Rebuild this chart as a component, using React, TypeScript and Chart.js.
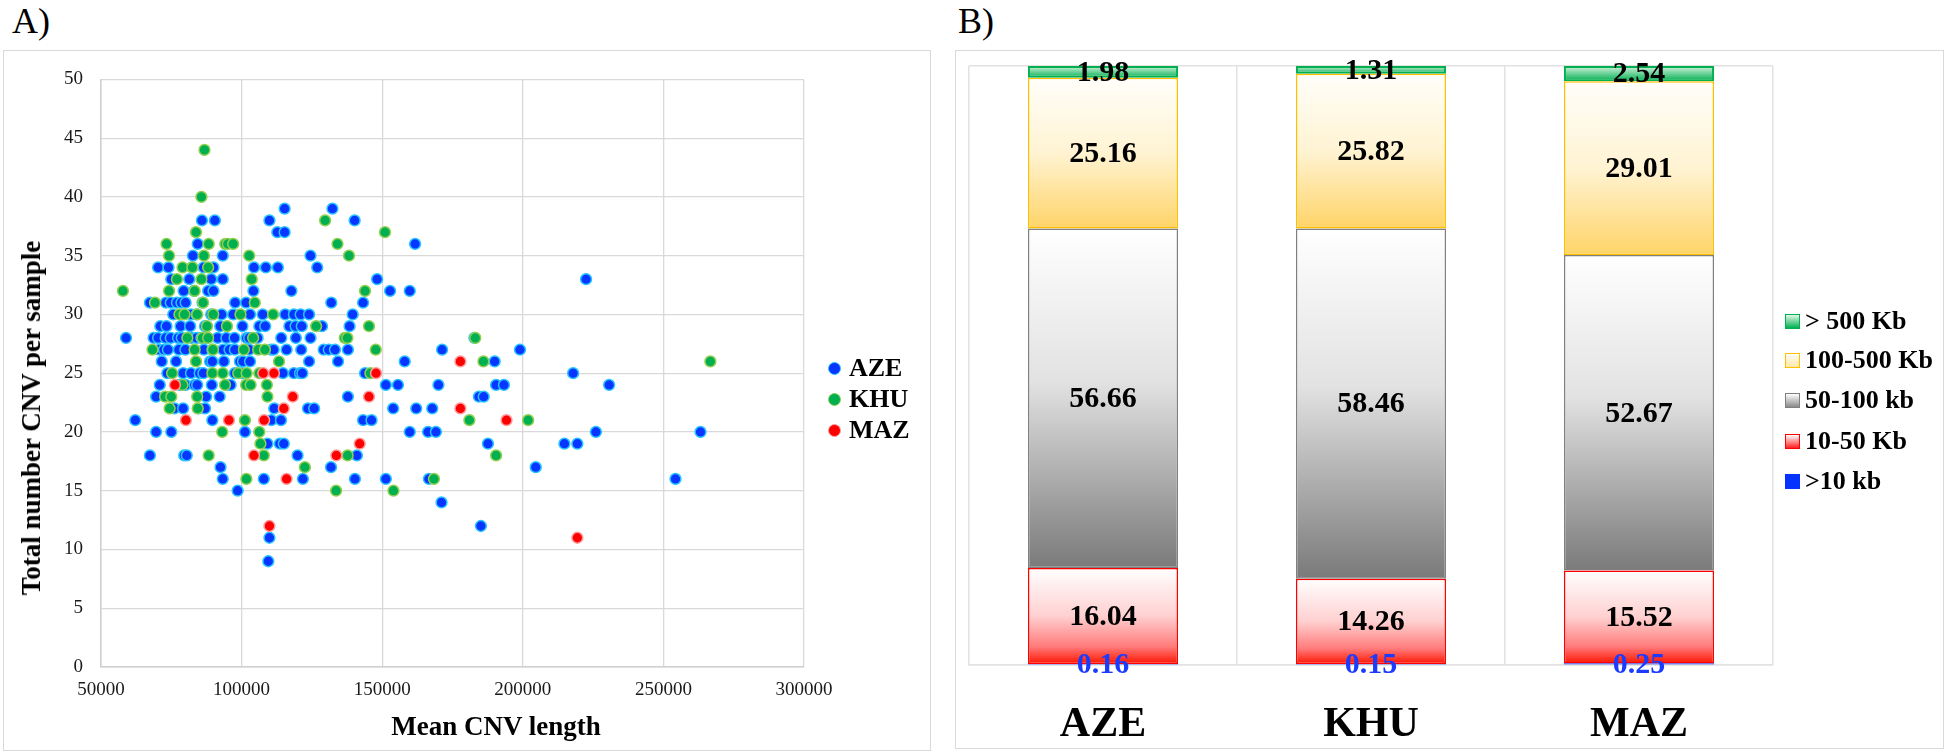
import React, { useEffect, useRef } from 'react';
import { Chart, registerables } from 'chart.js';

Chart.register(...registerables);

const SERIF = "'Liberation Serif', 'Times New Roman', Times, serif";

// ---------------- Panel A data (Mean CNV length, total CNV per sample) ----------------
const scatterGroups = ['AZE', 'KHU', 'MAZ'];

const azePoints: [number, number][] = [
  [115300, 39], [132300, 39],
  [85900, 38], [90500, 38], [109900, 38], [140200, 38],
  [112700, 37], [115300, 37],
  [84400, 36], [161700, 36],
  [82700, 35], [93300, 35], [124500, 35],
  [70300, 34], [74000, 34], [82400, 34], [86500, 34], [90000, 34], [104400, 34], [108600, 34], [112900, 34], [126900, 34],
  [75000, 33], [81400, 33], [89200, 33], [93300, 33], [148200, 33], [222500, 33],
  [79400, 32], [83100, 32], [88100, 32], [90000, 32], [104200, 32], [117700, 32], [152800, 32], [159800, 32],
  [67400, 31], [73100, 31], [74800, 31], [77000, 31], [78600, 31], [80100, 31], [86100, 31], [97700, 31], [101600, 31], [131900, 31], [143200, 31],
  [75700, 30], [82000, 30], [84000, 30], [89200, 30], [92900, 30], [97000, 30], [103000, 30], [107500, 30], [115500, 30], [118600, 30], [121000, 30], [124000, 30], [139500, 30],
  [71100, 29], [73300, 29], [78300, 29], [81700, 29], [87000, 29], [92400, 29], [100300, 29], [106300, 29], [108400, 29], [117000, 29], [119200, 29], [121400, 29], [128600, 29], [138400, 29],
  [58900, 28], [68700, 28], [70300, 28], [73000, 28], [74800, 28], [77400, 28], [78700, 28], [82100, 28], [84000, 28], [85700, 28], [87300, 28], [91500, 28], [94600, 28], [97500, 28], [101800, 28], [102700, 28], [105700, 28], [114100, 28], [119300, 28], [124500, 28], [182800, 28],
  [70800, 27], [72400, 27], [73800, 27], [77700, 27], [80000, 27], [86600, 27], [89600, 27], [93400, 27], [95700, 27], [97600, 27], [102700, 27], [110500, 27], [111400, 27], [116000, 27], [121200, 27], [129200, 27], [131000, 27], [133200, 27], [137800, 27], [171300, 27], [199000, 27],
  [71600, 26], [76700, 26], [88800, 26], [89600, 26], [93700, 26], [99400, 26], [100500, 26], [103000, 26], [124000, 26], [134300, 26], [158000, 26], [190000, 26],
  [73600, 25], [79200, 25], [82000, 25], [85100, 25], [86400, 25], [97600, 25], [100300, 25], [114700, 25], [118600, 25], [120800, 25], [121600, 25], [143900, 25], [217900, 25],
  [70900, 24], [78000, 24], [80100, 24], [83300, 24], [84200, 24], [89400, 24], [95500, 24], [96100, 24], [151300, 24], [155600, 24], [170000, 24], [190500, 24], [193300, 24], [230700, 24],
  [69600, 23], [87400, 23], [92200, 23], [137800, 23], [184400, 23], [186100, 23],
  [76100, 22], [79200, 22], [84600, 22], [87000, 22], [111600, 22], [123600, 22], [125800, 22], [153900, 22], [162100, 22], [167800, 22],
  [62200, 21], [89600, 21], [110600, 21], [114000, 21], [143200, 21], [146200, 21],
  [69600, 20], [75000, 20], [101200, 20], [159800, 20], [166300, 20], [169100, 20], [226000, 20], [263200, 20],
  [109200, 19], [113600, 19], [115000, 19], [187600, 19], [214800, 19], [219400, 19],
  [67400, 18], [79600, 18], [80500, 18], [119900, 18], [141000, 18],
  [92500, 17], [131800, 17], [204600, 17],
  [93300, 16], [107900, 16], [121800, 16], [140300, 16], [151300, 16], [166600, 16], [254300, 16],
  [98600, 15],
  [171100, 14],
  [185100, 12],
  [109900, 11],
  [109500, 9],
];

const khuPoints: [number, number][] = [
  [86800, 44], [85700, 40], [129700, 38], [83800, 37], [151000, 37],
  [73300, 36], [88300, 36], [94200, 36], [95100, 36], [97000, 36], [134100, 36],
  [74200, 35], [86600, 35], [102700, 35], [138200, 35],
  [79000, 34], [82500, 34], [88100, 34],
  [77000, 33], [85700, 33], [103600, 33],
  [57800, 32], [74200, 32], [83300, 32], [143900, 32],
  [69200, 31], [86300, 31], [104700, 31],
  [77900, 30], [79700, 30], [84200, 30], [89900, 30], [99600, 30], [111200, 30],
  [87700, 29], [94800, 29], [126500, 29], [145300, 29],
  [80700, 28], [86100, 28], [88100, 28], [104100, 28], [136700, 28], [137600, 28], [183100, 28],
  [68300, 27], [83300, 27], [89800, 27], [100800, 27], [105900, 27], [108300, 27], [147700, 27],
  [83800, 26], [113300, 26], [186000, 26], [266700, 26],
  [75300, 25], [89600, 25], [93300, 25], [98800, 25], [101800, 25], [106300, 25], [145800, 25],
  [79000, 24], [94100, 24], [101600, 24], [103200, 24], [109000, 24],
  [72800, 23], [75000, 23], [84200, 23], [109200, 23],
  [74400, 22], [84400, 22],
  [101200, 21], [181000, 21], [201900, 21],
  [93100, 20], [106300, 20],
  [106700, 19],
  [88300, 18], [107900, 18], [137700, 18], [190500, 18],
  [122500, 17],
  [101700, 16], [168400, 16],
  [133600, 15], [154000, 15],
];

const mazPoints: [number, number][] = [
  [76300, 24], [80200, 21], [95500, 21], [104400, 18], [107700, 25], [108000, 21],
  [109900, 12], [111500, 25], [115000, 22], [116000, 16], [118200, 23], [133700, 18],
  [142000, 19], [145300, 23], [147800, 25], [177800, 26], [177800, 22], [194200, 21], [219400, 11],
];

const scatterFill = ['#0636ff', '#00b050', '#ff0000'];
const scatterEdge = ['#29c4ff', '#92d050', '#ff9a9a'];

// ---------------- Panel B data (% of CNVs per size class) ----------------
const populations = ['AZE', 'KHU', 'MAZ'];
const sizeClasses = ['>10 kb', '10-50 Kb', '50-100 kb', '100-500 Kb', '> 500 Kb'];
const pctUnder10Kb = [0.16, 0.15, 0.25];
const pct10to50Kb = [16.04, 14.26, 15.52];
const pct50to100Kb = [56.66, 58.46, 52.67];
const pct100to500Kb = [25.16, 25.82, 29.01];
const pctOver500Kb = [1.98, 1.31, 2.54];

const classValues = [pctUnder10Kb, pct10to50Kb, pct50to100Kb, pct100to500Kb, pctOver500Kb];
const classStops: [number, string][][] = [
  [[0, '#0433ff'], [1, '#0433ff']],
  [[0, '#ffffff'], [0.5, '#ffd0d0'], [0.82, '#ff7a7a'], [1, '#ff1500']],
  [[0, '#ffffff'], [0.45, '#e2e2e2'], [1, '#7a7a7a']],
  [[0, '#fffefa'], [0.5, '#fff3d2'], [1, '#ffd468']],
  [[0, '#d5f2de'], [1, '#00b050']],
];
const classBorder = ['#0433ff', '#ff0000', '#808080', '#ffc000', '#00b050'];
const classBorderWidth = [0, 1.5, 1.5, 1.5, 2];
const legendBoxBg = [
  '#0433ff',
  'linear-gradient(#ffffff, #ff2020)',
  'linear-gradient(#ffffff, #8a8a8a)',
  'linear-gradient(#fffefa, #ffe8a6)',
  'linear-gradient(#e2f7e8, #00b050)',
];

function ScatterPanel() {
  const ref = useRef<HTMLCanvasElement | null>(null);
  useEffect(() => {
    if (!ref.current) return;
    const groups = [azePoints, khuPoints, mazPoints];
    const chart = new Chart(ref.current, {
      type: 'scatter',
      data: {
        datasets: groups.map((pts, i) => ({
          label: scatterGroups[i],
          data: pts.map(([x, y]) => ({ x, y })),
          backgroundColor: scatterFill[i],
          borderColor: scatterEdge[i],
          borderWidth: 1.5,
          pointRadius: 5.4,
          pointHoverRadius: 5.4,
          order: 3 - i,
        })),
      },
      options: {
        animation: false,
        responsive: false,
        events: [],
        layout: { padding: { top: 27, right: 126, left: 0, bottom: 0 } },
        plugins: { legend: { display: false }, tooltip: { enabled: false } },
        scales: {
          x: {
            type: 'linear',
            min: 50000,
            max: 300000,
            ticks: {
              stepSize: 50000,
              callback: (v: any) => String(v),
              font: { size: 19, family: SERIF },
              color: '#1a1a1a',
              padding: 12,
              maxRotation: 0,
            },
            grid: { color: '#d9d9d9', lineWidth: 1.3, drawTicks: false },
            border: { color: '#cfcfcf', width: 1.5 },
            afterFit: (s: any) => { s.height = 83; },
          },
          y: {
            type: 'linear',
            min: 0,
            max: 50,
            ticks: {
              stepSize: 5,
              font: { size: 19, family: SERIF },
              color: '#1a1a1a',
              padding: 18,
            },
            grid: { color: '#d9d9d9', lineWidth: 1.3, drawTicks: false },
            border: { color: '#cfcfcf', width: 1.5 },
            afterFit: (s: any) => { s.width = 101; },
          },
        },
      },
    });
    return () => chart.destroy();
  }, []);
  return (
    <canvas
      ref={ref}
      width={930}
      height={700}
      style={{ position: 'absolute', left: 0, top: 50, width: 930, height: 700 }}
    />
  );
}

const barValueLabels = {
  id: 'barValueLabels',
  afterDatasetsDraw(chart: any) {
    const ctx = chart.ctx;
    ctx.save();
    ctx.textAlign = 'center';
    ctx.textBaseline = 'middle';
    ctx.font = `bold 30px ${SERIF}`;
    chart.data.datasets.forEach((ds: any, i: number) => {
      const meta = chart.getDatasetMeta(i);
      meta.data.forEach((el: any, j: number) => {
        const { x, y, base } = el.getProps(['x', 'y', 'base'], true);
        ctx.fillStyle = i === 0 ? '#1a3cff' : '#000000';
        ctx.fillText(Number(ds.data[j]).toFixed(2), x, (y + base) / 2 + 1);
      });
    });
    ctx.restore();
  },
};

function BarPanel() {
  const ref = useRef<HTMLCanvasElement | null>(null);
  useEffect(() => {
    if (!ref.current) return;
    const makeBg = (k: number) => (c: any) => {
      const stops = classStops[k];
      const chart = c.chart;
      const ys = chart.scales && chart.scales.y;
      if (c.type !== 'data' || !ys || !chart.chartArea) return stops[stops.length - 1][1];
      let base = 0;
      for (let d = 0; d < c.datasetIndex; d++) base += Number(chart.data.datasets[d].data[c.dataIndex]);
      const v = Number(c.dataset.data[c.dataIndex]);
      const yTop = ys.getPixelForValue(base + v);
      const yBot = ys.getPixelForValue(base);
      if (!isFinite(yTop) || !isFinite(yBot) || yTop === yBot) return stops[stops.length - 1][1];
      const g = chart.ctx.createLinearGradient(0, yTop, 0, yBot);
      stops.forEach(([o, col]) => g.addColorStop(o, col));
      return g;
    };
    const chart = new Chart(ref.current, {
      type: 'bar',
      data: {
        labels: populations,
        datasets: classValues.map((vals, k) => ({
          label: sizeClasses[k],
          data: vals,
          backgroundColor: makeBg(k),
          borderColor: classBorder[k],
          borderWidth: classBorderWidth[k],
          borderSkipped: false,
          categoryPercentage: 1,
          barPercentage: 0.56,
        })),
      },
      options: {
        animation: false,
        responsive: false,
        events: [],
        layout: { padding: { top: 16, right: 170, left: 14, bottom: 0 } },
        plugins: { legend: { display: false }, tooltip: { enabled: false } },
        scales: {
          x: {
            stacked: true,
            ticks: {
              font: { size: 42, weight: 'bold', family: SERIF },
              color: '#000000',
              padding: 35,
            },
            grid: { color: '#e2e2e2', lineWidth: 1.5, drawTicks: false, offset: true },
            border: { color: '#e2e2e2', width: 1.5 },
            afterFit: (s: any) => { s.height = 85; },
          },
          y: {
            stacked: true,
            min: 0,
            max: 100,
            ticks: { stepSize: 100, display: false },
            grid: { color: '#e2e2e2', lineWidth: 1.5, drawTicks: false },
            border: { display: false },
            afterFit: (s: any) => { s.width = 0; },
          },
        },
      },
      plugins: [barValueLabels],
    });
    chart.update();
    return () => chart.destroy();
  }, []);
  return (
    <canvas
      ref={ref}
      width={988}
      height={700}
      style={{ position: 'absolute', left: 955, top: 50, width: 988, height: 700 }}
    />
  );
}

const legendARows = [368, 399, 430];
const legendBRows = [481, 441, 400, 360, 321];

export default function App() {
  return (
    <div
      style={{
        position: 'absolute',
        left: 0,
        top: 0,
        width: 1946,
        height: 754,
        background: '#ffffff',
        fontFamily: SERIF,
        color: '#000',
        overflow: 'hidden',
      }}
    >
      <div style={{ position: 'absolute', left: 12, top: 2, fontSize: 36, lineHeight: '38px' }}>A)</div>
      <div style={{ position: 'absolute', left: 958, top: 2, fontSize: 36, lineHeight: '38px' }}>B)</div>

      <div
        style={{
          position: 'absolute', left: 3, top: 50, width: 928, height: 701,
          boxSizing: 'border-box', border: '1.5px solid #d9d9d9',
        }}
      />
      <div
        style={{
          position: 'absolute', left: 955, top: 50, width: 989, height: 699,
          boxSizing: 'border-box', border: '1.5px solid #d9d9d9',
        }}
      />

      <ScatterPanel />
      <BarPanel />

      <div
        style={{
          position: 'absolute', left: 31, top: 418, transform: 'translate(-50%, -50%) rotate(-90deg)',
          whiteSpace: 'nowrap', fontWeight: 'bold', fontSize: 27, lineHeight: '30px',
        }}
      >
        Total number CNV per sample
      </div>
      <div
        style={{
          position: 'absolute', left: 496, top: 726, transform: 'translate(-50%, -50%)',
          whiteSpace: 'nowrap', fontWeight: 'bold', fontSize: 27, lineHeight: '30px',
        }}
      >
        Mean CNV length
      </div>

      {scatterGroups.map((g, i) => (
        <div
          key={g}
          style={{
            position: 'absolute', left: 828, top: legendARows[i] - 15, height: 30,
            display: 'flex', alignItems: 'center', whiteSpace: 'nowrap',
          }}
        >
          <span
            style={{
              display: 'inline-block', width: 13, height: 13, borderRadius: '50%', boxSizing: 'border-box',
              background: scatterFill[i], border: `1.5px solid ${scatterEdge[i]}`, marginRight: 8,
            }}
          />
          <span style={{ fontWeight: 'bold', fontSize: 26, lineHeight: '30px' }}>{g}</span>
        </div>
      ))}

      {sizeClasses.map((c, k) => (
        <div
          key={c}
          style={{
            position: 'absolute', left: 1785, top: legendBRows[k] - 15, height: 30,
            display: 'flex', alignItems: 'center', whiteSpace: 'nowrap',
          }}
        >
          <span
            style={{
              display: 'inline-block', width: 15, height: 15, boxSizing: 'border-box',
              background: legendBoxBg[k], border: `1.5px solid ${classBorder[k]}`, marginRight: 5,
            }}
          />
          <span style={{ fontWeight: 'bold', fontSize: 26, lineHeight: '30px' }}>{c}</span>
        </div>
      ))}
    </div>
  );
}
